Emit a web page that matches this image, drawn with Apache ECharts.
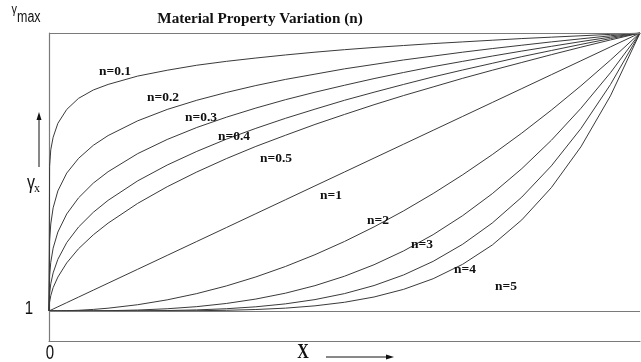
<!DOCTYPE html>
<html><head><meta charset="utf-8">
<script src="https://cdn.jsdelivr.net/npm/echarts@6/dist/echarts.min.js"></script>
<style>html,body{margin:0;padding:0;background:#fff}#c{width:641px;height:362px}</style>
</head><body><div id="c"></div>
<script>
const titleText = 'Material Property Variation (n)';
const xSamples = [0, 0.001, 0.003, 0.007, 0.015, 0.03, 0.05, 0.075, 0.1, 0.15, 0.2, 0.25, 0.3, 0.35, 0.4, 0.45, 0.5, 0.55, 0.6, 0.65, 0.7, 0.75, 0.8, 0.85, 0.9, 0.95, 1];
const nLabels = ['n=0.1', 'n=0.2', 'n=0.3', 'n=0.4', 'n=0.5', 'n=1', 'n=2', 'n=3', 'n=4', 'n=5'];
const curveN01 = [0, 0.52, 0.58, 0.625, 0.675, 0.725, 0.765, 0.795, 0.815, 0.845, 0.866, 0.884, 0.898, 0.91, 0.921, 0.931, 0.94, 0.948, 0.955, 0.962, 0.968, 0.974, 0.98, 0.985, 0.99, 0.995, 1];
const curveN02 = [0, 0.251, 0.313, 0.371, 0.432, 0.496, 0.549, 0.596, 0.631, 0.684, 0.725, 0.758, 0.786, 0.811, 0.833, 0.852, 0.871, 0.887, 0.903, 0.917, 0.931, 0.944, 0.956, 0.968, 0.979, 0.990, 1];
const curveN03 = [0, 0.126, 0.175, 0.226, 0.284, 0.349, 0.407, 0.460, 0.501, 0.566, 0.617, 0.660, 0.697, 0.730, 0.760, 0.787, 0.812, 0.836, 0.858, 0.879, 0.898, 0.917, 0.935, 0.952, 0.969, 0.985, 1];
const curveN04 = [0, 0.063, 0.098, 0.137, 0.186, 0.246, 0.302, 0.355, 0.398, 0.468, 0.525, 0.574, 0.618, 0.657, 0.693, 0.726, 0.758, 0.787, 0.815, 0.842, 0.867, 0.891, 0.915, 0.937, 0.959, 0.980, 1];
const curveN05 = [0, 0.032, 0.055, 0.084, 0.122, 0.173, 0.224, 0.274, 0.316, 0.387, 0.447, 0.500, 0.548, 0.592, 0.632, 0.671, 0.707, 0.742, 0.775, 0.806, 0.837, 0.866, 0.894, 0.922, 0.949, 0.975, 1];
const curveN1  = [0, 0.001, 0.003, 0.007, 0.015, 0.03, 0.05, 0.075, 0.1, 0.15, 0.2, 0.25, 0.3, 0.35, 0.4, 0.45, 0.5, 0.55, 0.6, 0.65, 0.7, 0.75, 0.8, 0.85, 0.9, 0.95, 1];
const curveN2  = [0, 0, 0, 0, 0.0002, 0.0009, 0.0025, 0.0056, 0.01, 0.0225, 0.04, 0.0625, 0.09, 0.1225, 0.16, 0.2025, 0.25, 0.3025, 0.36, 0.4225, 0.49, 0.5625, 0.64, 0.7225, 0.81, 0.9025, 1];
const curveN3  = [0, 0, 0, 0, 0, 0, 0.0001, 0.0004, 0.001, 0.0034, 0.008, 0.0156, 0.027, 0.0429, 0.064, 0.0911, 0.125, 0.1664, 0.216, 0.2746, 0.343, 0.4219, 0.512, 0.614, 0.729, 0.857, 1];
const curveN4  = [0, 0, 0, 0, 0, 0, 0, 0, 0.0001, 0.0005, 0.0016, 0.0039, 0.0081, 0.015, 0.0256, 0.041, 0.0625, 0.0915, 0.1296, 0.1785, 0.2401, 0.3164, 0.4096, 0.522, 0.6561, 0.8145, 1];
const curveN5  = [0, 0, 0, 0, 0, 0, 0, 0, 0, 0.0001, 0.0003, 0.001, 0.0024, 0.0053, 0.0102, 0.0185, 0.0313, 0.0503, 0.0778, 0.116, 0.168, 0.2373, 0.3277, 0.4437, 0.5905, 0.7738, 1];
const yTickLabels = ['1', 'max'];   // at y = 0 (γ = 1) and y = 1 (γ = γmax)
const xTickLabels = ['0'];
const yAxisName = 'γ';
const xAxisName = 'X';

const curves = [curveN01, curveN02, curveN03, curveN04, curveN05, curveN1, curveN2, curveN3, curveN4, curveN5];
const labelPos = [[115,72],[163,98],[201,118],[234,137],[276,159],[331,196],[378,221],[422,245],[465,270],[506,287]];

const chart = echarts.init(document.getElementById('c'), null, {renderer: 'canvas'});
const series = curves.map((vals, k) => ({
  type: 'line', name: nLabels[k], silent: true, showSymbol: false,
  smooth: false,
  lineStyle: {color: '#3a3a3a', width: 1},
  data: xSamples.map((x, i) => [x, vals[i]]),
  z: 3
}));
series[0].markLine = {
  silent: true, symbol: ['none', 'none'],
  lineStyle: {color: '#7a7a7a', width: 1.2, type: 'solid'},
  label: {show: false},
  data: [{yAxis: 0}, {yAxis: 1}]
};
chart.setOption({
  animation: false,
  backgroundColor: '#fff',
  grid: {left: 49, right: 1, top: 33, bottom: 21},
  xAxis: {type: 'value', min: 0, max: 1, interval: 1,
    axisLine: {show: true, onZero: false, lineStyle: {color: '#7a7a7a', width: 1.2}},
    axisTick: {show: false}, splitLine: {show: false}, axisLabel: {show: false}},
  yAxis: {type: 'value', min: -0.108, max: 1,
    axisLine: {show: true, onZero: false, lineStyle: {color: '#7a7a7a', width: 1.2}},
    axisTick: {show: false}, splitLine: {show: false}, axisLabel: {show: false}},
  series: series
});

const p0 = chart.convertToPixel({xAxisIndex: 0, yAxisIndex: 0}, [0, 0]);
const p1 = chart.convertToPixel({xAxisIndex: 0, yAxisIndex: 0}, [0, 1]);
const gbottom = 341;
const sans = '"Liberation Sans", Arial, sans-serif';
const serif = '"Liberation Serif", "Times New Roman", serif';
function txt(t, x, y, size, weight, family, align, valign, sy) {
  return {type: 'text', x: x, y: y, scaleY: sy || 1, silent: true, z: 10,
    style: {text: t, x: 0, y: 0, fontSize: size, fontWeight: weight, fontFamily: family,
      fill: '#111', align: align, verticalAlign: valign, textAlign: align, textVerticalAlign: valign}};
}
const graphics = [];
graphics.push(txt(titleText, 260, 19, 15.2, 'bold', serif, 'center', 'middle'));
// y tick labels
graphics.push(txt(yTickLabels[0], 33, p0[1] - 2, 15, 'normal', sans, 'right', 'middle', 1.25));
graphics.push(txt('γ', 17, 9, 11, 'normal', sans, 'right', 'middle', 1.2));
graphics.push(txt(yTickLabels[1], 17, p1[1] - 15, 12.5, 'normal', sans, 'left', 'middle', 1.3));
// x tick label
graphics.push(txt(xTickLabels[0], p0[0] + 1, gbottom + 13, 15, 'normal', sans, 'center', 'middle', 1.3));
// y axis name with arrow
graphics.push(txt(yAxisName, 35, 183, 16, 'normal', sans, 'right', 'middle', 1.3));
graphics.push(txt('x', 34, 189, 12, 'normal', serif, 'left', 'middle', 1.1));
graphics.push({type: 'line', silent: true, shape: {x1: 39, y1: 167, x2: 39, y2: 118}, style: {stroke: '#111', lineWidth: 1}});
graphics.push({type: 'polygon', silent: true, shape: {points: [[39, 112], [36.5, 120], [41.5, 120]]}, style: {fill: '#111'}});
// x axis name with arrow
graphics.push(txt(xAxisName, 303, 353, 16, 'bold', serif, 'center', 'middle', 1.3));
graphics.push({type: 'line', silent: true, shape: {x1: 326, y1: 357, x2: 387, y2: 357}, style: {stroke: '#111', lineWidth: 1}});
graphics.push({type: 'polygon', silent: true, shape: {points: [[394, 357], [386, 354.5], [386, 359.5]]}, style: {fill: '#111'}});
// curve labels
nLabels.forEach((t, k) => graphics.push(txt(t, labelPos[k][0], labelPos[k][1], 13.5, 'bold', serif, 'center', 'middle')));
chart.setOption({graphic: graphics});
</script></body></html>
